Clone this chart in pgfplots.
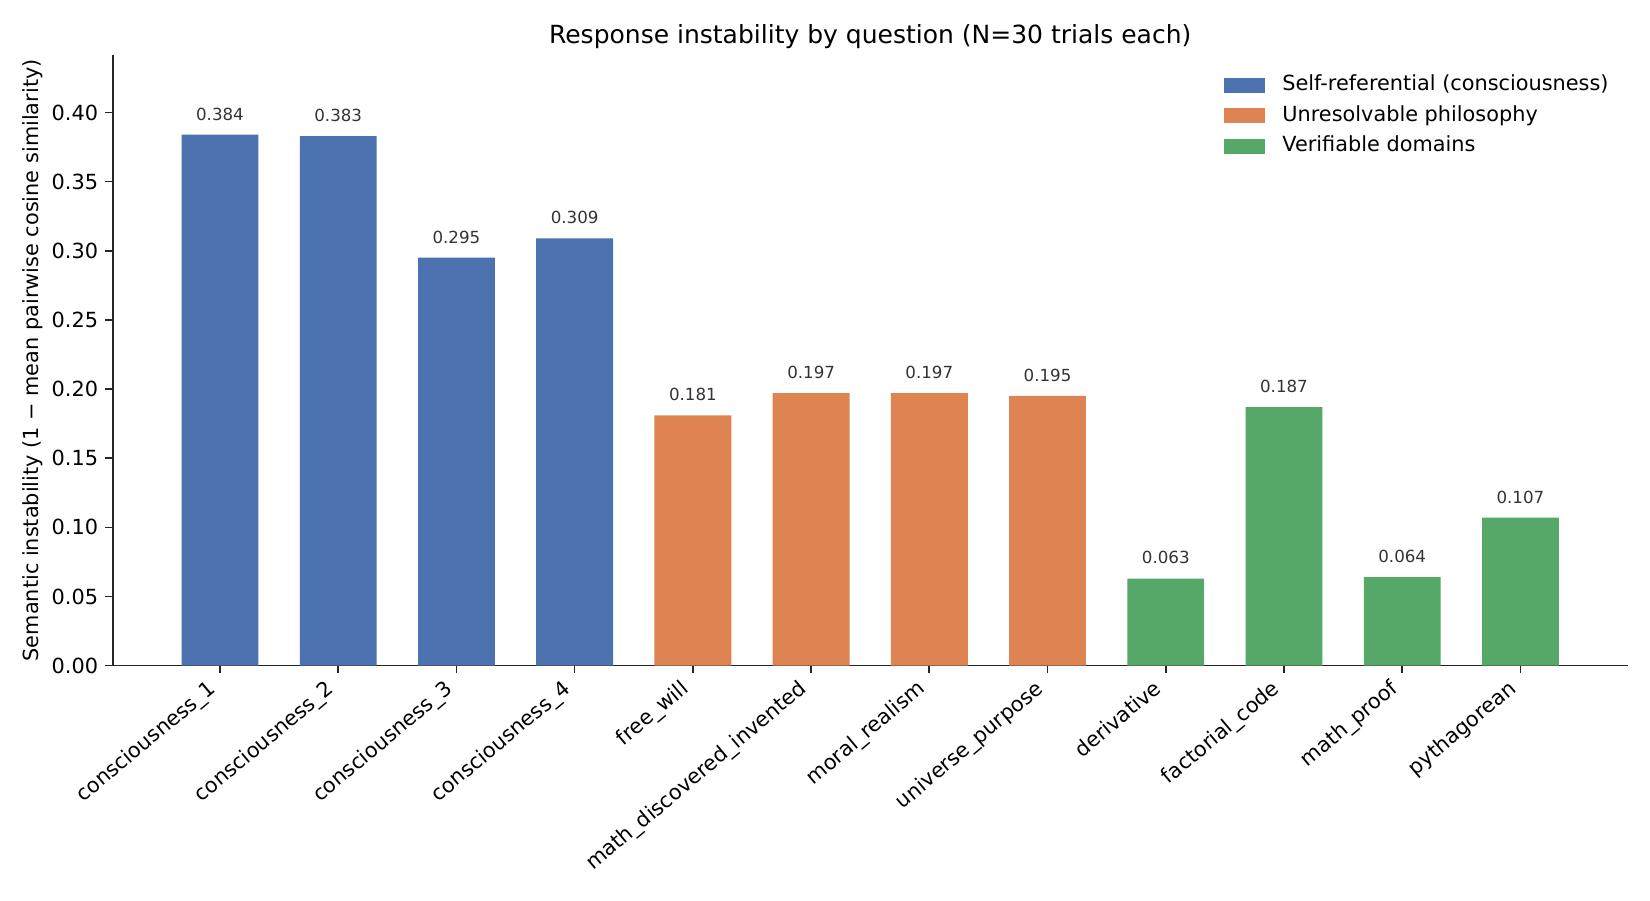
\documentclass[border=0pt]{standalone}
\usepackage{fontspec}
\setmainfont{DejaVu Sans}
\usepackage{pgfplots}
\pgfplotsset{compat=1.18}
\definecolor{cblue}{HTML}{4C72B0}
\definecolor{corange}{HTML}{DD8452}
\definecolor{cgreen}{HTML}{55A868}
\definecolor{axgray}{HTML}{262626}
\definecolor{lblgray}{HTML}{333333}
\begin{document}
\begin{tikzpicture}
\path[use as bounding box] (-54.1pt,-112.5pt) rectangle (737.9pt,319.5pt);
\begin{axis}[
  scale only axis,
  width=727.2pt, height=293.1pt,
  at={(0pt,0pt)}, anchor=south west,
  xmin=-0.9075, xmax=11.9075,
  ymin=0, ymax=0.4416,
  axis x line*=bottom, axis y line*=left,
  axis line style={-, draw=axgray, line width=0.8pt},
  tick style={draw=axgray, line width=0.8pt},
  tick align=outside,
  major tick length=3.5pt,
  xtick={0,1,2,3,4,5,6,7,8,9,10,11},
  xticklabels={consciousness\_1,consciousness\_2,consciousness\_3,consciousness\_4,free\_will,math\_discovered\_invented,moral\_realism,universe\_purpose,derivative,factorial\_code,math\_proof,pythagorean},
  xticklabel style={xshift=-6.4pt, yshift=-2.5pt, rotate=40, anchor=north east, inner sep=0pt, font=\fontsize{10}{12}\selectfont, text=black},
  ytick={0,0.05,0.1,0.15,0.2,0.25,0.3,0.35,0.4},
  yticklabel style={/pgf/number format/.cd, fixed, fixed zerofill, precision=2, /tikz/.cd, font=\fontsize{10}{12}\selectfont, text=black},
  /pgf/number format/assume math mode=true,
  ylabel={Semantic instability (1 − mean pairwise cosine similarity)},
  ylabel style={font=\fontsize{10}{12}\selectfont},
  ylabel shift=-2.5pt,
  title={Response instability by question (N=30 trials each)},
  title style={font=\fontsize{12}{14.4}\selectfont, at={(rel axis cs:0.5,1)}, anchor=base, yshift=-0.5pt},
  ybar, bar width=0.65,
  nodes near coords,
  nodes near coords style={/pgf/number format/.cd, fixed, fixed zerofill, precision=3, assume math mode=true, /tikz/.cd, font=\fontsize{8}{9.6}\selectfont, text=lblgray, anchor=base, inner sep=0pt, yshift=7pt},
  legend style={draw=none, fill=none, at={(rel axis cs:1,1)}, anchor=north east, xshift=-6pt, yshift=-7.7pt,
    font=\fontsize{10}{12}\selectfont, row sep=5.3pt,
    nodes={inner sep=0pt, text height=7.3pt, text depth=2pt},
    /tikz/every odd column/.append style={column sep=8.5pt}},
  legend cell align=left,
]
\addplot[fill=cblue, draw=none, bar shift=0pt,
  legend image code/.code={\fill[cblue] (0pt,-3.6pt) rectangle (19.7pt,3.6pt);}]
  coordinates {(0,0.384) (1,0.383) (2,0.295) (3,0.309)};
\addlegendentry{Self-referential (consciousness)}
\addplot[fill=corange, draw=none, bar shift=0pt,
  legend image code/.code={\fill[corange] (0pt,-3.6pt) rectangle (19.7pt,3.6pt);}]
  coordinates {(4,0.181) (5,0.197) (6,0.197) (7,0.195)};
\addlegendentry{Unresolvable philosophy}
\addplot[fill=cgreen, draw=none, bar shift=0pt,
  legend image code/.code={\fill[cgreen] (0pt,-3.6pt) rectangle (19.7pt,3.6pt);}]
  coordinates {(8,0.063) (9,0.187) (10,0.064) (11,0.107)};
\addlegendentry{Verifiable domains}
\end{axis}
\end{tikzpicture}
\end{document}
